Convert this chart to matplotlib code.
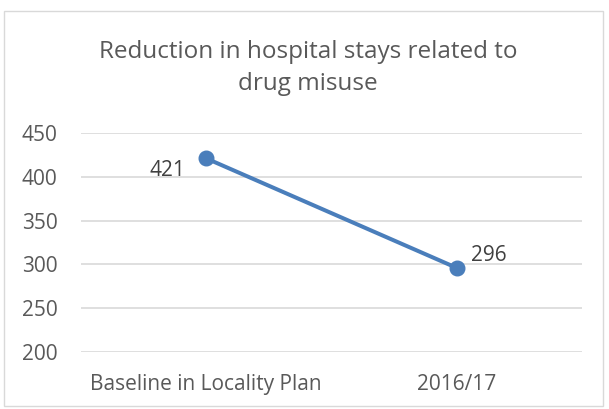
import matplotlib
matplotlib.use("Agg")
import matplotlib.pyplot as plt
from matplotlib.patches import Rectangle

categories = ["Baseline in Locality Plan", "2016/17"]
values = [421, 296]
yticks = [200, 250, 300, 350, 400, 450]
title = "Reduction in hospital stays related to\ndrug misuse"

plt.rcParams['font.family'] = ['Open Sans', 'DejaVu Sans']
W, H = 609, 409
fig = plt.figure(figsize=(W/100, H/100), dpi=100)
fig.patches.append(Rectangle((4/W, 1 - 406/H), 599/W, 395/H, transform=fig.transFigure,
                             fill=False, edgecolor='#D9D9D9', linewidth=1))

ax = fig.add_axes([81/W, 1 - 352/H, 501/W, 219/H])
x = [0, 1]
ax.plot(x, values, color='#4A7EBB', linewidth=2.9, marker='o', markersize=10.5, solid_capstyle='round')
ax.set_xlim(-0.5, 1.5)
ax.set_ylim(200, 450)
ax.set_yticks(yticks)
ax.set_xticks(x)
ax.set_xticklabels(categories)
for s in ax.spines.values():
    s.set_visible(False)
ax.grid(axis='y', color='#D9D9D9', linewidth=1.2)
ax.set_axisbelow(True)
ax.tick_params(length=0, labelsize=15, colors='#595959')
ax.tick_params(axis='x', pad=16)
ax.tick_params(axis='y', pad=17)

ax.annotate(str(values[0]), (x[0], values[0]), xytext=(-28, -9), textcoords='offset points',
            ha='center', va='center', fontsize=15, color='#404040')
ax.annotate(str(values[1]), (x[1], values[1]), xytext=(23, 9), textcoords='offset points',
            ha='center', va='center', fontsize=15, color='#404040')

fig.text(308/W, 1 - 68/H, title, ha='center', va='center', fontsize=17.5, color='#595959',
         linespacing=1.45)

fig.savefig("out.png", dpi=100)
